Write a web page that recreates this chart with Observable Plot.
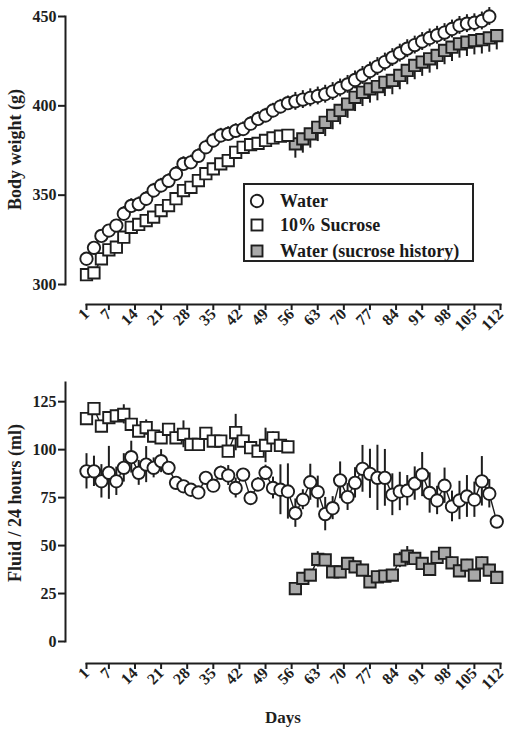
<!DOCTYPE html>
<html><head><meta charset="utf-8">
<script src="https://cdn.jsdelivr.net/npm/d3@7"></script>
<script src="https://cdn.jsdelivr.net/npm/@observablehq/plot@0.6"></script>
<style>
body{margin:0;background:#fff;width:512px;height:735px;overflow:hidden;position:relative;font-family:"Liberation Serif","Times New Roman",serif;}
svg{display:block}
#legend{position:absolute;left:243px;top:183px;width:231px;height:79px;border:2px solid #222;background:#fff;box-sizing:border-box;font-weight:bold;font-size:18px;color:#1a1a1a;}
#legend .row{position:absolute;left:0;height:20px;line-height:20px;white-space:nowrap;}
#legend svg{position:absolute;left:2px;top:0;}
#legend span{position:absolute;left:35px;top:0;}
</style></head><body>
<div id="top"></div><div id="bottom"></div><div id="legend"></div>
<script>
// ---- data ----
const daysA = [1,3,5,7,9,11,13,15,17,19,21,23,25,27,29,31,33,35,37,39,41,43,45,47,49,51,53,55];
const daysB = [57,59,61,63,65,67,69,71,73,75,77,79,81,83,85,87,89,91,93,95,97,99,101,103,105,107,109,111];
const xTicks = [1,7,14,21,28,35,42,49,56,63,70,77,84,91,98,105,112];
const yTicksTop = [300,350,400,450];
const yTicksBottom = [0,25,50,75,100,125];
const seriesNames = ["Water","10% Sucrose","Water (sucrose history)"];

// Body weight (g)
const waterWeightA = [314.4,320.5,327.2,330.2,333,339.6,344,345,348,352.6,355.4,358,362,367.5,368.4,372,376.8,380.6,383.4,384.3,386,387,390,392.7,394.6,397.4,399.6,401.5];
const waterWeightB = [402.5,403.5,404.5,405.5,406.5,408,410,412,414.5,417,419.5,422,424.5,427,429.5,432,434,436,438,439.5,441,443,445,446,446.5,447.5,450];
const waterWeightErrA = [3,3,3,3,3,4,4,4,4,4,4,4,4,4,4,4,4,4,4,4,4,4,4,4,4,4,4,4];
const waterWeightErrB = [5,5,5,5,5,5,5,5,5,5,5,5,5,5,5,5,5,5,5,5,5,5,5,5,5,5,5];
const sucroseWeight = [305.5,306.5,314.4,319.4,320.9,326.5,332,333.6,335.8,337.7,341.4,344.2,348,352.6,354.4,358.2,362,364.7,367.5,369.4,374,376.8,378.3,379,380.6,382,383,383.5];
const sucroseWeightErr = [3,3,3,3,3,3,3,3,3,3,3,3,3,3,3,3,3,3,3,3,3,3,3,3,3,3,3,3];
const historyWeight = [378.7,381.5,384.3,388,390.8,394.6,397.4,401,404.8,407.6,409.5,410.8,413.2,414.2,417,419.8,422.6,424.5,426.3,428.2,431,432.8,434.7,435.6,436.5,437,438,439.3];
const historyWeightErr = [8,8,8,8,8,8,8,8,8,8,8,8,8,8,8,8,8,8,8,8,8,8,8,8,8,8,8,8];

// Fluid / 24 hours (ml)
const waterFluid = [88.7,88.7,83.5,87.9,83.5,90.5,96.1,87.9,92.2,90.5,94,90.5,82.7,80.9,79.1,77.7,85.3,81.2,87.9,86.5,80,87,74.8,81.8,87.9,80,79.1,78.2,
  66.9,73.9,83,77.9,66.4,69.5,84,75.3,82.7,90,87.4,85.3,85.3,76.5,78.2,78.6,82.3,87,77.4,73.5,81.2,70.4,73.5,75.6,73.9,83.5,77,62.5];
const waterFluidErr = [9.2,7.9,8.7,13.8,7.4,7.4,8.3,6.5,9.4,5.2,6,2.6,2,1.5,2,1.5,2.6,1.5,3.5,5.2,5.2,2.6,2.6,3.6,4,5.7,13,14.4,
  7.4,5.2,9.4,8.3,8.7,6,9.6,7,7.9,12.2,12.8,17,14.8,10.9,10,7.9,8.7,11.5,10.5,7.4,9.2,8,10,10.9,9.2,12.9,7.4,2];
const sucroseFluid = [116.2,121.4,112.3,116.7,117.6,118.4,113.2,109.7,111.5,107.1,106.2,110.6,106.2,108,102.7,102.7,108.5,104.5,104.5,99.2,108.9,104.5,101,99.2,102.2,106.2,102.2,101.5];
const sucroseFluidErr = [3,3,3,3,3,5,3,3,4,3,3,3,3,7,3,3,3,3,3,3,9.5,3,3,3,9,3,3,3];
const historyFluid = [27.6,32.9,34.6,42.8,42.5,36.3,36.3,40.7,38.9,37.2,31.1,33.7,34.1,34.6,42.5,44.5,43.3,40.7,37.6,43.9,46,41,36.8,39.8,34.6,41,37.2,33.4];
const historyFluidErr = [2,3,3,4,3,3,3,3,3,3,3,3,3,3,4,5,3,3,3,3,3,3,3,3,3,3,3,3];

// ---- build tables ----
function rows(days, vals, errs, lowOnly){
  return vals.map((v,i)=>({day:days[i], v, lo:v-errs[i], hi: lowOnly ? v : v+errs[i]}));
}
const waterTop = rows(daysA.concat(daysB), waterWeightA.concat(waterWeightB), waterWeightErrA.concat(waterWeightErrB));
const sucroseTop = rows(daysA, sucroseWeight, sucroseWeightErr);
const historyTop = rows(daysB, historyWeight, historyWeightErr, true);
const waterBot = rows(daysA.concat(daysB), waterFluid, waterFluidErr);
const sucroseBot = rows(daysA, sucroseFluid, sucroseFluidErr);
const historyBot = rows(daysB, historyFluid, historyFluidErr);

const INK = "#1e1e1e", GREY = "#a9a9a9";
const style = {fontFamily:'"Liberation Serif","Times New Roman",serif', fontSize:"16px", fontWeight:"bold", color:INK, background:"#fff", overflow:"visible"};

function seriesMarks(data, kind){
  const fill = kind === "grey" ? GREY : "#fff";
  const symbol = kind === "circle" ? "circle" : "square";
  const r = kind === "circle" ? 6.2 : 6.4;
  return [
    Plot.ruleX(data, {x:"day", y1:"lo", y2:"hi", stroke:INK, strokeWidth:2}),
    Plot.line(data, {x:"day", y:"v", stroke:INK, strokeWidth:1.4}),
    Plot.dot(data, {x:"day", y:"v", symbol, r, fill, stroke:INK, strokeWidth:1.9})
  ];
}

function axes(yTicks, yTitle, xOffset, titleDy, withDays){
  const m = [
    Plot.frame({anchor:"left", insetBottom:xOffset, stroke:INK, strokeWidth:2}),
    Plot.frame({anchor:"bottom", insetLeft:21, stroke:INK, strokeWidth:2}),
    Plot.axisY({ticks:yTicks, tickSize:7, tickPadding:2, tickFormat:d=>String(d), label:null, strokeWidth:2, stroke:INK, fontSize:16}),
    Plot.axisX({ticks:xTicks, tickSize:6, tickPadding:1, tickRotate:-45, tickFormat:d=>String(d), label:null, strokeWidth:2, stroke:INK, fontSize:16}),
    Plot.text([yTitle], {frameAnchor:"left", textAnchor:"middle", rotate:-90, dx:-50, dy:titleDy, fontSize:18, fontWeight:"bold", fill:INK})
  ];
  if (withDays) m.push(Plot.text(["Days"], {frameAnchor:"bottom", dy:59, fontSize:17, fontWeight:"bold", fill:INK}));
  return m;
}

const topPlot = Plot.plot({
  width:512, height:340,
  marginTop:16, marginLeft:65, marginRight:12, marginBottom:36,
  x:{domain:[1,112], range:[86,500]},
  y:{domain:[300,450], range:[284,16]},
  style,
  marks:[
    ...axes(yTicksTop, "Body weight (g)", 20, -11, false),
    ...seriesMarks(historyTop, "grey"),
    ...seriesMarks(sucroseTop, "open"),
    ...seriesMarks(waterTop, "circle")
  ]
});
document.getElementById("top").append(topPlot);

const botPlot = Plot.plot({
  width:512, height:395,
  marginTop:42, marginLeft:65, marginRight:12, marginBottom:72,
  x:{domain:[1,112], range:[86,500]},
  y:{domain:[0,135], range:[301,42]},
  style,
  marks:[
    ...axes(yTicksBottom, "Fluid / 24 hours (ml)", 22, -20, true),
    ...seriesMarks(historyBot, "grey"),
    ...seriesMarks(sucroseBot, "open"),
    ...seriesMarks(waterBot, "circle")
  ]
});
document.getElementById("bottom").append(botPlot);

// legend
const legend = document.getElementById("legend");
const legendY = [6, 30, 56];
seriesNames.forEach((name,i)=>{
  const row = document.createElement("div");
  row.className = "row"; row.style.top = legendY[i] + "px";
  let sym;
  if (i === 0) sym = `<svg width="22" height="20"><circle cx="10" cy="10" r="6.2" fill="#fff" stroke="${INK}" stroke-width="1.9"/></svg>`;
  else sym = `<svg width="22" height="20"><rect x="4.5" y="4.5" width="11" height="11" fill="${i===1?"#fff":GREY}" stroke="${INK}" stroke-width="1.9"/></svg>`;
  row.innerHTML = sym + `<span>${name}</span>`;
  legend.append(row);
});
</script>
</body></html>
